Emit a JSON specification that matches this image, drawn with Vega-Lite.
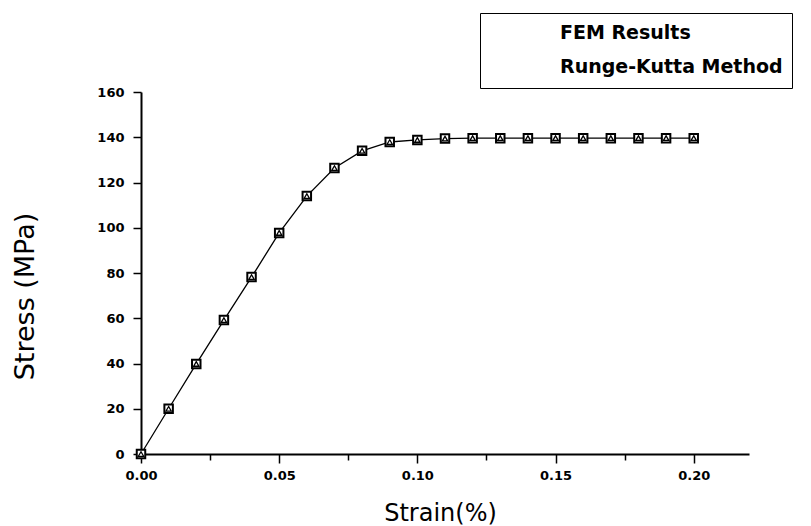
{
  "$schema": "https://vega.github.io/schema/vega-lite/v6.json",
  "width": 608,
  "height": 362,
  "autosize": {"type": "none"},
  "padding": {"left": 141, "top": 92, "right": 62, "bottom": 72},
  "background": "white",
  "config": {
    "view": {"stroke": null},
    "font": "DejaVu Sans",
    "axis": {"domainColor": "black", "domainWidth": 2}
  },
  "data": {
    "values": [
      {"series": "FEM Results", "strain": 0.00, "stress": 0},
      {"series": "FEM Results", "strain": 0.01, "stress": 20},
      {"series": "FEM Results", "strain": 0.02, "stress": 39.8},
      {"series": "FEM Results", "strain": 0.03, "stress": 59.2},
      {"series": "FEM Results", "strain": 0.04, "stress": 78.2},
      {"series": "FEM Results", "strain": 0.05, "stress": 97.7},
      {"series": "FEM Results", "strain": 0.06, "stress": 114},
      {"series": "FEM Results", "strain": 0.07, "stress": 126.4},
      {"series": "FEM Results", "strain": 0.08, "stress": 134},
      {"series": "FEM Results", "strain": 0.09, "stress": 137.9},
      {"series": "FEM Results", "strain": 0.10, "stress": 138.8},
      {"series": "FEM Results", "strain": 0.11, "stress": 139.4},
      {"series": "FEM Results", "strain": 0.12, "stress": 139.6},
      {"series": "FEM Results", "strain": 0.13, "stress": 139.6},
      {"series": "FEM Results", "strain": 0.14, "stress": 139.6},
      {"series": "FEM Results", "strain": 0.15, "stress": 139.6},
      {"series": "FEM Results", "strain": 0.16, "stress": 139.6},
      {"series": "FEM Results", "strain": 0.17, "stress": 139.6},
      {"series": "FEM Results", "strain": 0.18, "stress": 139.6},
      {"series": "FEM Results", "strain": 0.19, "stress": 139.6},
      {"series": "FEM Results", "strain": 0.20, "stress": 139.6},
      {"series": "Runge-Kutta Method", "strain": 0.00, "stress": 0},
      {"series": "Runge-Kutta Method", "strain": 0.01, "stress": 20},
      {"series": "Runge-Kutta Method", "strain": 0.02, "stress": 39.8},
      {"series": "Runge-Kutta Method", "strain": 0.03, "stress": 59.2},
      {"series": "Runge-Kutta Method", "strain": 0.04, "stress": 78.2},
      {"series": "Runge-Kutta Method", "strain": 0.05, "stress": 97.7},
      {"series": "Runge-Kutta Method", "strain": 0.06, "stress": 114},
      {"series": "Runge-Kutta Method", "strain": 0.07, "stress": 126.4},
      {"series": "Runge-Kutta Method", "strain": 0.08, "stress": 134},
      {"series": "Runge-Kutta Method", "strain": 0.09, "stress": 137.9},
      {"series": "Runge-Kutta Method", "strain": 0.10, "stress": 138.8},
      {"series": "Runge-Kutta Method", "strain": 0.11, "stress": 139.4},
      {"series": "Runge-Kutta Method", "strain": 0.12, "stress": 139.6},
      {"series": "Runge-Kutta Method", "strain": 0.13, "stress": 139.6},
      {"series": "Runge-Kutta Method", "strain": 0.14, "stress": 139.6},
      {"series": "Runge-Kutta Method", "strain": 0.15, "stress": 139.6},
      {"series": "Runge-Kutta Method", "strain": 0.16, "stress": 139.6},
      {"series": "Runge-Kutta Method", "strain": 0.17, "stress": 139.6},
      {"series": "Runge-Kutta Method", "strain": 0.18, "stress": 139.6},
      {"series": "Runge-Kutta Method", "strain": 0.19, "stress": 139.6},
      {"series": "Runge-Kutta Method", "strain": 0.20, "stress": 139.6}
    ]
  },
  "layer": [
    {
      "transform": [{"filter": "datum.series === 'FEM Results'"}],
      "mark": {"type": "line", "color": "black", "strokeWidth": 1.3},
      "encoding": {
        "x": {
          "field": "strain", "type": "quantitative",
          "scale": {"domain": [0, 0.22], "nice": false, "zero": false},
          "axis": {
            "orient": "bottom",
            "values": [0, 0.025, 0.05, 0.075, 0.1, 0.125, 0.15, 0.175, 0.2],
            "labelExpr": "round(datum.value * 1000) % 50 === 0 ? format(datum.value, '.2f') : ''",
            "grid": false, "labelAlign": "center",
            "tickSize": {"condition": {"test": "round(datum.value * 1000) % 50 === 0", "value": 9}, "value": 6},
            "tickWidth": 1.5, "tickColor": "black",
            "labelFont": "DejaVu Sans", "labelFontSize": 13, "labelFontWeight": "bold", "labelColor": "black",
            "labelPadding": {"condition": {"test": "round(datum.value * 1000) % 50 === 0", "value": 6}, "value": 9},
            "title": "Strain(%)", "titleFont": "DejaVu Sans", "titleFontSize": 24, "titleFontWeight": "normal", "titleColor": "black",
            "titleX": 299, "titleY": 59, "titleBaseline": "middle", "titleAlign": "center"
          }
        },
        "y": {
          "field": "stress", "type": "quantitative",
          "scale": {"domain": [0, 160], "nice": false},
          "axis": {
            "orient": "left",
            "values": [0, 10, 20, 30, 40, 50, 60, 70, 80, 90, 100, 110, 120, 130, 140, 150, 160],
            "labelExpr": "datum.value % 20 === 0 ? datum.label : ''",
            "grid": false,
            "tickSize": {"condition": {"test": "datum.value % 20 === 0", "value": 8}, "value": 4},
            "tickWidth": 1.5, "tickColor": "black",
            "labelFont": "DejaVu Sans", "labelFontSize": 13, "labelFontWeight": "bold", "labelColor": "black", "labelPadding": 9,
            "title": "Stress (MPa)", "titleFont": "DejaVu Sans", "titleFontSize": 27, "titleFontWeight": "normal", "titleColor": "black",
            "titleAngle": -90, "titleX": -116, "titleY": 204, "titleBaseline": "middle", "titleAlign": "center"
          }
        }
      }
    },
    {
      "transform": [{"filter": "datum.series === 'FEM Results'"}],
      "mark": {"type": "point", "filled": false, "fill": "white", "stroke": "black", "strokeWidth": 2, "size": 72, "opacity": 1},
      "encoding": {
        "x": {"field": "strain", "type": "quantitative"},
        "y": {"field": "stress", "type": "quantitative"},
        "shape": {
          "field": "series", "type": "nominal",
          "scale": {"domain": ["FEM Results", "Runge-Kutta Method"], "range": ["square", "triangle-up"]},
          "legend": {
            "title": null, "orient": "none", "legendX": 339, "legendY": -79,
            "strokeColor": "black", "fillColor": "white", "padding": 9,
            "symbolSize": 400, "symbolOffset": 13, "labelOffset": 36,
            "symbolStrokeColor": "black",
            "labelFont": "DejaVu Sans", "labelFontSize": 19, "labelFontWeight": "bold", "labelColor": "black", "labelLimit": 400,
            "rowPadding": 9,
            "encode": {
              "symbols": {
                "update": {
                  "shape": {"signal": "datum.value === 'FEM Results' ? 'M-1.1,0H-0.4M0.4,0H4.1M-0.4,-0.4H0.4V0.4H-0.4Z' : 'M-1.1,0H-0.4M0.4,0H4.1M0,-0.45L0.45,0.35H-0.45Z'"}
                }
              }
            }
          }
        }
      }
    },
    {
      "transform": [{"filter": "datum.series === 'Runge-Kutta Method'"}],
      "mark": {"type": "point", "filled": false, "fill": "white", "stroke": "black", "strokeWidth": 1.3, "size": 28, "opacity": 1},
      "encoding": {
        "x": {"field": "strain", "type": "quantitative"},
        "y": {"field": "stress", "type": "quantitative"},
        "shape": {"field": "series", "type": "nominal"}
      }
    }
  ]
}
